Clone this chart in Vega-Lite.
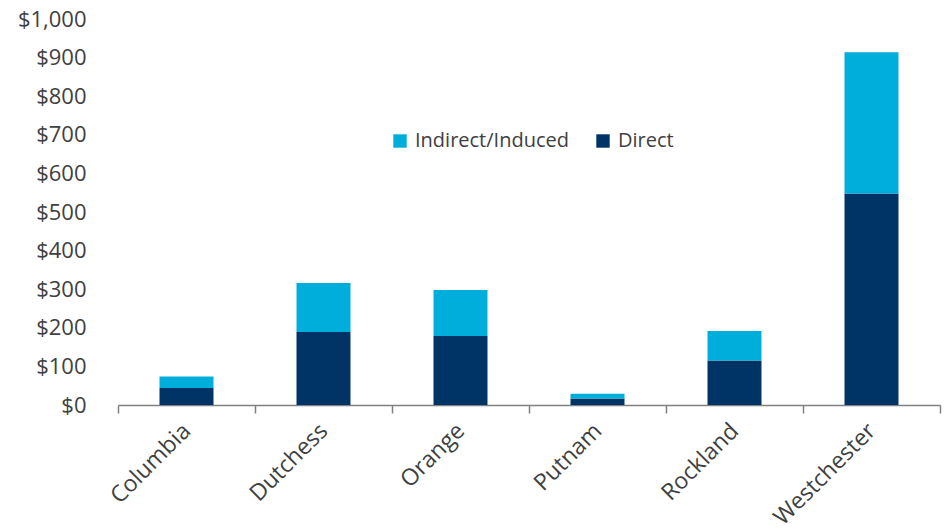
{
  "$schema": "https://vega.github.io/schema/vega-lite/v6.json",
  "width": 822,
  "height": 386,
  "autosize": {"type": "none"},
  "padding": {"left": 118, "top": 19, "right": 4, "bottom": 125},
  "background": "white",
  "config": {
    "view": {"stroke": null},
    "font": "Open Sans"
  },
  "data": {
    "values": [
      {"county": "Columbia", "type": "Direct", "ord": 1, "value": 44},
      {"county": "Columbia", "type": "Indirect/Induced", "ord": 2, "value": 30},
      {"county": "Dutchess", "type": "Direct", "ord": 1, "value": 189},
      {"county": "Dutchess", "type": "Indirect/Induced", "ord": 2, "value": 127},
      {"county": "Orange", "type": "Direct", "ord": 1, "value": 179},
      {"county": "Orange", "type": "Indirect/Induced", "ord": 2, "value": 119},
      {"county": "Putnam", "type": "Direct", "ord": 1, "value": 17},
      {"county": "Putnam", "type": "Indirect/Induced", "ord": 2, "value": 12},
      {"county": "Rockland", "type": "Direct", "ord": 1, "value": 115},
      {"county": "Rockland", "type": "Indirect/Induced", "ord": 2, "value": 77},
      {"county": "Westchester", "type": "Direct", "ord": 1, "value": 548},
      {"county": "Westchester", "type": "Indirect/Induced", "ord": 2, "value": 366}
    ]
  },
  "mark": {"type": "bar", "width": {"band": 0.394}},
  "encoding": {
    "x": {
      "field": "county",
      "type": "nominal",
      "sort": null,
      "scale": {"paddingInner": 0, "paddingOuter": 0},
      "axis": {
        "title": null,
        "labelAngle": -45,
        "labelAlign": "right",
        "labelBaseline": "middle",
        "labelFontSize": 23,
        "labelColor": "#404040",
        "labelPadding": 14,
        "tickBand": "extent",
        "tickSize": 8,
        "tickColor": "#808080",
        "domainColor": "#808080",
        "domainWidth": 1.5,
        "tickWidth": 1.5
      }
    },
    "y": {
      "field": "value",
      "type": "quantitative",
      "stack": "zero",
      "scale": {"domain": [0, 1000]},
      "axis": {
        "title": null,
        "grid": false,
        "domain": false,
        "ticks": false,
        "labelOverlap": false,
        "values": [0, 100, 200, 300, 400, 500, 600, 700, 800, 900, 1000],
        "format": "$,.0f",
        "labelFontSize": 22,
        "labelColor": "#404040",
        "labelPadding": 32
      }
    },
    "color": {
      "field": "type",
      "type": "nominal",
      "scale": {"domain": ["Indirect/Induced", "Direct"], "range": ["#00AEDB", "#003366"]},
      "legend": {
        "title": null,
        "orient": "none",
        "legendX": 272,
        "legendY": 112,
        "direction": "horizontal",
        "symbolType": "square",
        "symbolSize": 180,
        "symbolStrokeWidth": 0,
        "labelFontSize": 20,
        "labelColor": "#404040",
        "columnPadding": 24,
        "labelOffset": 5
      }
    },
    "order": {"field": "ord", "type": "quantitative"}
  }
}
